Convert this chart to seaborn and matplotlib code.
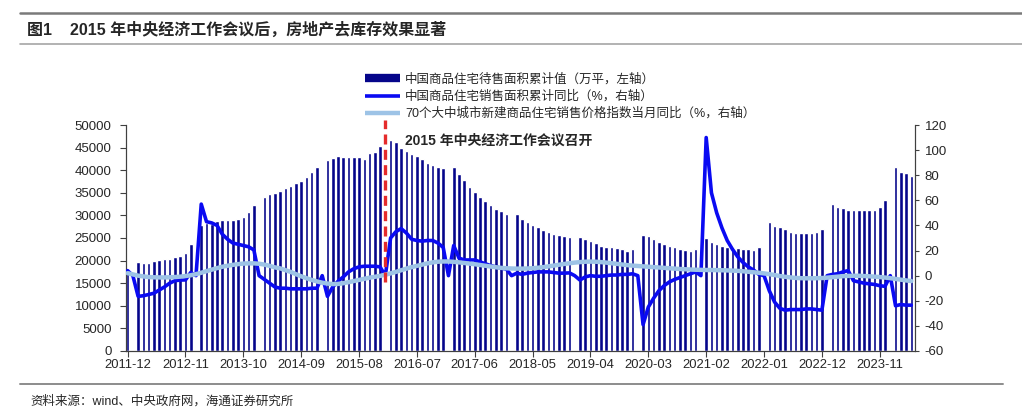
import numpy as np
import pandas as pd
import matplotlib
matplotlib.use("Agg")
import matplotlib.pyplot as plt
from matplotlib.lines import Line2D
import seaborn as sns

# monthly categories, 2011-12 .. 2024-05 (January is blank in the source, shown as 0)
months = pd.date_range("2011-12-01", "2024-05-01", freq="MS").strftime("%Y-%m").tolist()

# 中国商品住宅待售面积累计值 (万平)
stock = (
    [17500]
    + [0, 19600, 19400, 19400, 19800, 20100, 20400, 20300, 20900, 21100, 21600, 23600]
    + [0, 27800, 28400, 28200, 28700, 28900, 29000, 29000, 29200, 29600, 30700, 32300]
    + [0, 34100, 34700, 35000, 35400, 36000, 36500, 37100, 37700, 38600, 39500, 40600]
    + [0, 42300, 42800, 43200, 43000, 42900, 43000, 42900, 42400, 43700, 44100, 45300]
    + [0, 46700, 46200, 45000, 44300, 43500, 43200, 42500, 41500, 41200, 40600, 40400]
    + [0, 40600, 39200, 37800, 36300, 35100, 34000, 33200, 32300, 31500, 30900, 30200]
    + [0, 30200, 29200, 28600, 27900, 27400, 26800, 26300, 25900, 25700, 25500, 25200]
    + [0, 25200, 24700, 24400, 23800, 23200, 22900, 22900, 22700, 22500, 22200, 22500]
    + [0, 25700, 25400, 24700, 24200, 23700, 23200, 22900, 22500, 22300, 22100, 22500]
    + [0, 24900, 24200, 23700, 23200, 23100, 22900, 22700, 22500, 22500, 22300, 22900]
    + [0, 28500, 27700, 27400, 27000, 26300, 26200, 26200, 26000, 26200, 26400, 27000]
    + [0, 32600, 31900, 31600, 31200, 31200, 31300, 31300, 31300, 31300, 31900, 33300]
    + [0, 40600, 39600, 39300, 38800]
)

# 中国商品住宅销售面积累计同比 (%)
sales_yoy = (
    [4.0]
    + [0, -16.5, -16.0, -15.0, -14.0, -11.5, -9.0, -6.0, -4.0, -3.5, -3.4, 2.5]
    + [0, 57.0, 43.0, 42.0, 40.0, 33.0, 29.0, 26.0, 25.0, 24.0, 23.0, 20.5]
    + [0, -3.0, -6.0, -9.0, -10.0, -10.0, -10.5, -10.5, -10.5, -10.5, -10.0, -10.0]
    + [0, -16.5, -9.0, -4.5, -1.0, 3.0, 5.5, 7.0, 7.5, 7.5, 7.5, 7.0]
    + [0, 30.0, 35.0, 37.5, 34.0, 29.0, 28.0, 27.5, 28.0, 28.0, 26.0, 22.5]
    + [0, 24.0, 14.0, 12.5, 12.5, 12.5, 11.0, 9.5, 8.0, 7.0, 6.0, 5.3]
    + [0, 2.0, 1.0, 2.0, 2.5, 3.0, 3.0, 3.0, 2.5, 2.0, 2.0, 2.2]
    + [0, -3.5, -1.0, 0.0, -0.5, -0.5, 0.0, 0.5, 0.5, 1.0, 1.0, 1.5]
    + [0, -39.0, -25.0, -18.0, -12.0, -8.0, -5.0, -3.0, -1.5, 0.0, 1.5, 3.0]
    + [0, 110.0, 66.0, 50.0, 38.0, 28.0, 21.0, 15.0, 10.5, 7.0, 4.5, 1.1]
    + [0, -12.0, -21.0, -26.0, -27.5, -27.0, -27.0, -27.0, -26.5, -26.5, -27.0, -27.5]
    + [0, 1.0, 1.5, 3.0, 4.0, -4.0, -5.0, -6.0, -6.5, -7.0, -8.0, -8.5]
    + [0, -24.0, -23.0, -23.5, -23.5]
)

# 70个大中城市新建商品住宅销售价格指数当月同比 (%)
price_yoy = (
    [2.0]
    + [1.0, 0.0, -0.6, -1.1, -1.3, -1.4, -1.4, -1.3, -1.1, -0.8, -0.3, 0.3]
    + [1.2, 2.3, 3.6, 4.8, 6.0, 7.1, 7.9, 8.6, 9.2, 9.6, 9.8, 9.8]
    + [9.5, 8.8, 7.8, 6.6, 5.8, 4.4, 3.0, 1.2, -0.5, -2.0, -3.4, -4.6]
    + [-5.6, -6.3, -6.7, -6.6, -6.0, -5.2, -4.3, -3.4, -2.5, -1.6, -0.9, -0.2]
    + [0.8, 1.8, 3.0, 4.3, 5.6, 6.8, 7.8, 8.8, 9.8, 10.6, 11.1, 11.3]
    + [11.3, 11.0, 10.6, 10.1, 9.6, 9.1, 8.5, 7.9, 7.3, 6.7, 6.2, 5.9]
    + [5.7, 5.6, 5.6, 5.7, 5.9, 6.3, 6.8, 7.4, 8.0, 8.7, 9.3, 9.9]
    + [10.4, 10.8, 11.1, 11.2, 11.1, 10.8, 10.4, 9.9, 9.4, 8.9, 8.4, 8.0]
    + [7.7, 7.4, 7.1, 6.8, 6.5, 6.2, 5.9, 5.6, 5.3, 5.1, 4.9, 4.7]
    + [4.6, 4.5, 4.5, 4.4, 4.3, 4.2, 4.0, 3.8, 3.5, 3.1, 2.7, 2.3]
    + [1.8, 1.2, 0.5, -0.3, -0.9, -1.4, -1.8, -2.0, -2.1, -2.1, -2.0, -1.9]
    + [-1.6, -1.2, -0.8, -0.4, -0.2, -0.1, -0.1, -0.3, -0.5, -0.8, -1.1, -1.5]
    + [-2.0, -2.6, -3.2, -3.8, -4.3]
)

legend_labels = [
    "中国商品住宅待售面积累计值（万平，左轴）",
    "中国商品住宅销售面积累计同比（%，右轴）",
    "70个大中城市新建商品住宅销售价格指数当月同比（%，右轴）",
]
event_month = "2016-01"
event_text = "2015 年中央经济工作会议召开"

NAVY = "#05058A"
BLUE = "#0A0AF2"
LIGHT = "#9DC3E6"

df = pd.DataFrame({"month": months, "stock": stock,
                   "sales_yoy": sales_yoy, "price_yoy": price_yoy})
df["pos"] = np.arange(len(df))

sns.set_style("white")
plt.rcParams["font.family"] = ["Liberation Sans", "Noto Sans CJK SC"]
plt.rcParams["axes.unicode_minus"] = False

fig = plt.figure(figsize=(10.22, 4.12), dpi=100)
ax = fig.add_axes([0.1228, 0.1481, 0.7725, 0.5485])

sns.barplot(data=df, x="pos", y="stock", color=NAVY, saturation=1,
            width=0.68, native_scale=True, ax=ax)

ax2 = ax.twinx()
sns.lineplot(data=df, x="pos", y="sales_yoy", color=BLUE, lw=2.6, ax=ax2, zorder=3)
sns.lineplot(data=df, x="pos", y="price_yoy", color=LIGHT, lw=3.2, ax=ax2, zorder=4)

# red dashed marker for the 2015 conference
ev = df.index[df["month"] == event_month][0]
ax2.plot([ev, ev], [-5, 124], color="#E52B2B", lw=2.4, ls=(0, (3, 1.6)),
         clip_on=False, zorder=6)

ax.set_xlim(-0.4, len(df) - 0.3)
ax.set_ylim(0, 50000)
ax2.set_ylim(-60, 120)
ax.set_yticks(range(0, 50001, 5000))
ax2.set_yticks(range(-60, 121, 20))
ax.set_xticks(df["pos"][::11])
ax.set_xticklabels(df["month"][::11])
for a in (ax, ax2):
    a.set_xlabel("")
    a.set_ylabel("")
    a.spines["top"].set_visible(False)
    for s in a.spines.values():
        s.set_color("#404040")
        s.set_linewidth(0.8)

ax.tick_params(axis="x", bottom=True, direction="out", length=4, width=0.8,
               color="#404040", labelsize=9.4, pad=1.5)
ax.tick_params(axis="y", left=True, direction="out", length=4, width=0.8,
               color="#404040", labelsize=9.5, pad=6)
ax2.tick_params(axis="y", right=True, direction="out", length=3, width=0.8,
                color="#404040", labelsize=9.5, pad=4)

handles = [Line2D([], [], color=NAVY, lw=6, solid_capstyle="butt"),
           Line2D([], [], color=BLUE, lw=2.6, solid_capstyle="butt"),
           Line2D([], [], color=LIGHT, lw=3.2, solid_capstyle="butt")]
fig.legend(handles, legend_labels, loc="upper left", bbox_to_anchor=(0.357, 0.822),
           frameon=False, fontsize=9, handlelength=2.8, handletextpad=0.4,
           labelspacing=0.38, borderpad=0, borderaxespad=0)

fig.text(405 / 1022, 1 - 141 / 412, event_text, fontsize=10, fontweight="bold", va="center")

# report header / footer
fig.add_artist(Line2D([20 / 1022, 1], [1 - 12.5 / 412] * 2, color="#7a7a7a", lw=1.8))
fig.add_artist(Line2D([20 / 1022, 1], [1 - 43.5 / 412] * 2, color="#a6a6a6", lw=1.2))
fig.add_artist(Line2D([20 / 1022, 1003 / 1022], [1 - 383.5 / 412] * 2, color="#8c8c8c", lw=1.4))
fig.text(27 / 1022, 1 - 30 / 412, "图1    2015 年中央经济工作会议后，房地产去库存效果显著",
         fontsize=11.5, fontweight="bold", va="center")
fig.text(30 / 1022, 1 - 401 / 412, "资料来源：wind、中央政府网，海通证券研究所",
         fontsize=9, va="center")

fig.savefig("out.png", dpi=100)
